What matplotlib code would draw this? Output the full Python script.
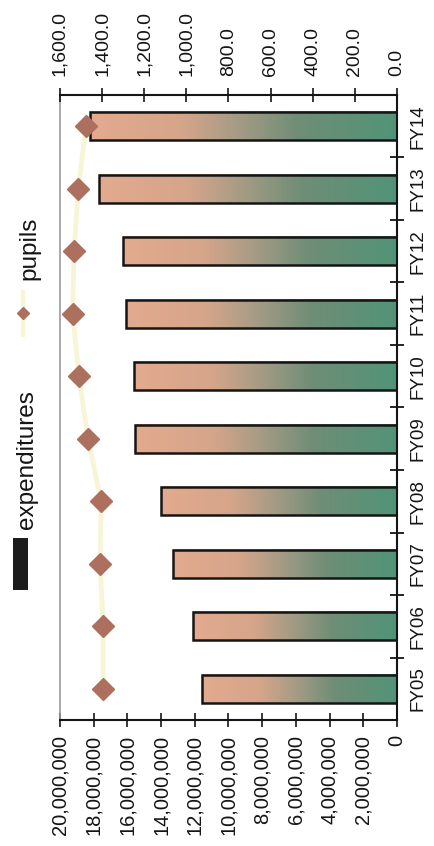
import numpy as np
import matplotlib
matplotlib.use('Agg')
import matplotlib.pyplot as plt
from matplotlib.colors import LinearSegmentedColormap
from matplotlib.ticker import FuncFormatter
from matplotlib.patches import Rectangle
from matplotlib.lines import Line2D

plt.rcParams['font.family'] = ['Liberation Sans', 'DejaVu Sans']

years = ['FY05', 'FY06', 'FY07', 'FY08', 'FY09', 'FY10', 'FY11', 'FY12', 'FY13', 'FY14']
expenditures = [11.6e6, 12.1e6, 13.3e6, 14.0e6, 15.55e6, 15.6e6, 16.1e6, 16.25e6, 17.7e6, 18.2e6]
pupils = [1395, 1395, 1410, 1405, 1467, 1510, 1540, 1533, 1514, 1476]
exp_ticks = np.arange(0, 20e6 + 1, 2e6)
pupil_ticks = np.arange(0, 1601, 200)

W, H = 435, 846
fx = lambda x: x / W
fy = lambda y: 1 - y / H

fig = plt.figure(figsize=(W / 100, H / 100), dpi=100, facecolor='white')
ax = fig.add_axes([fx(60), fy(720), fx(397) - fx(60), fy(95) - fy(720)])

# bars run from 0 on the right towards the left, each with its own fade
grad = LinearSegmentedColormap.from_list(
    'fade', [(0.0, '#e3aa8e'), (0.3, '#d5a58a'), (0.5, '#a09a84'),
             (0.68, '#6f8d76'), (1.0, '#519478')])
ramp = np.linspace(0, 1, 256).reshape(1, -1)
pos = np.arange(len(years))
bh = 0.45
bars = ax.barh(pos, expenditures, height=bh, facecolor='none',
               edgecolor='#151515', linewidth=1.8, zorder=3)
for b, v, p in zip(bars, expenditures, pos):
    ax.imshow(ramp, cmap=grad, extent=(v, 0, p - bh / 2, p + bh / 2),
              aspect='auto', zorder=2, interpolation='bilinear')

ax.set_xlim(20e6, 0)
ax.set_ylim(-0.5, len(years) - 0.5)
ax.set_xticks(exp_ticks)
ax.xaxis.set_major_formatter(FuncFormatter(lambda v, p: f'{v:,.0f}'))
ax.tick_params(axis='x', direction='inout', length=10, width=1.2,
               labelsize=14.5, rotation=90, pad=6, colors='#151515')

# category axis on the right, ticks between categories
ax.yaxis.tick_right()
ax.set_yticks(pos)
ax.set_yticklabels(years, rotation=90, va='center', fontsize=13.5)
ax.set_yticks(pos[:-1] + 0.5, minor=True)
ax.tick_params(axis='y', which='major', length=0, pad=9, colors='#151515')
ax.tick_params(axis='y', which='minor', direction='inout', length=10, width=1.2)

for s in ['bottom', 'right']:
    ax.spines[s].set_color('#151515')
    ax.spines[s].set_linewidth(1.5)
ax.spines['left'].set_color('#9a9a9a')
ax.spines['left'].set_linewidth(1.2)
ax.spines['top'].set_visible(False)

# pupils on the secondary axis
ax2 = ax.twiny()
ax2.plot(pupils, pos, color='#f6f6d6', linewidth=3.5, zorder=4)
ax2.plot(pupils, pos, linestyle='none', marker='D', markersize=11,
         color='#ad6f5e', zorder=5)
ax2.set_xlim(1600, 0)
ax2.set_xticks(pupil_ticks)
ax2.xaxis.set_major_formatter(FuncFormatter(lambda v, p: f'{v:,.1f}'))
ax2.tick_params(axis='x', direction='inout', length=10, width=1.2,
                labelsize=14, rotation=90, pad=9, colors='#151515')
for s in ['bottom', 'left', 'right']:
    ax2.spines[s].set_visible(False)
ax2.spines['top'].set_color('#151515')
ax2.spines['top'].set_linewidth(1.5)

# legend down the left side
fig.add_artist(Rectangle((fx(13), fy(590)), fx(28) - fx(13), fy(538) - fy(590),
                         transform=fig.transFigure, facecolor='#1c1c1c',
                         edgecolor='none'))
fig.text(fx(27), fy(460), 'expenditures', rotation=90, ha='center', va='center',
         fontsize=17.5, color='#151515')
fig.add_artist(Line2D([fx(23), fx(23)], [fy(335), fy(292)], transform=fig.transFigure,
                      color='#f6f6d6', linewidth=3))
fig.add_artist(Line2D([fx(23)], [fy(313)], transform=fig.transFigure, marker='D',
                      markersize=6, color='#ad6f5e', linestyle='none'))
fig.text(fx(29), fy(248), 'pupils', rotation=90, ha='center', va='center',
         fontsize=17.5, color='#151515')

fig.savefig('out.png', dpi=100, facecolor='white')
